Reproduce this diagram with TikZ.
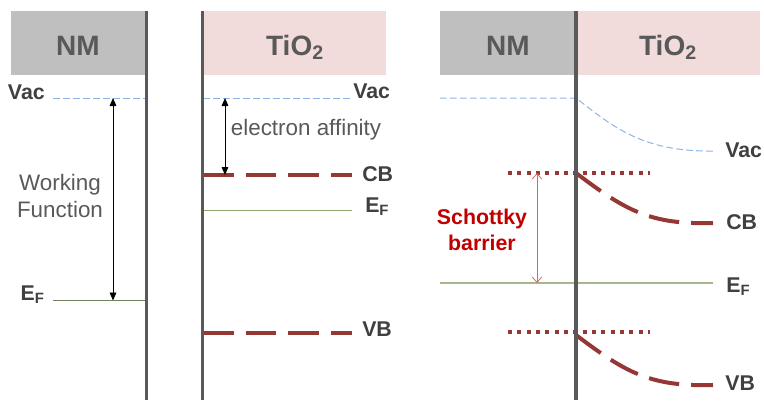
\documentclass[tikz,border=0pt]{standalone}
\usepackage{fontspec}
\setmainfont{Liberation Sans}
\usetikzlibrary{arrows.meta}
\definecolor{hdgray}{HTML}{BFBFBF}
\definecolor{hdpink}{HTML}{F2DCDB}
\definecolor{wallgray}{HTML}{595959}
\definecolor{bandred}{HTML}{953735}
\definecolor{vacblue}{HTML}{8EB4E3}
\definecolor{fermigreen}{HTML}{8FA570}
\definecolor{txtgray}{HTML}{404040}
\definecolor{sbred}{HTML}{C00000}
\definecolor{sbarrow}{HTML}{E06666}
\tikzset{
  hdr/.style={font=\fontsize{21}{24}\selectfont\bfseries, text=wallgray, anchor=base, inner sep=0},
  lbl/.style={font=\fontsize{16}{19}\selectfont\bfseries, text=txtgray, inner sep=0},
  note/.style={font=\fontsize{16.8}{20}\selectfont, text=wallgray, align=center, inner sep=0},
  vacline/.style={vacblue, line width=0.75pt, dash pattern=on 5pt off 2.5pt},
  fermiline/.style={fermigreen, line width=0.8pt},
  bandline/.style={bandred, line width=3pt, dash pattern=on 23pt off 9pt},
  bandref/.style={bandred, line width=3pt, dash pattern=on 3pt off 4pt},
  wall/.style={wallgray, line width=2.6pt},
  gap/.style={{Triangle[width=5pt,length=6pt]}-{Triangle[width=5pt,length=6pt]}, line width=0.6pt},
}
\begin{document}
\begin{tikzpicture}[x=0.75pt, y=-0.75pt]
  \useasboundingbox (0,0) rectangle (764,400);
  % headers
  \fill[hdgray] (11,11) rectangle (146,75);
  \fill[hdpink] (203,11) rectangle (386,75);
  \fill[hdgray] (440,11) rectangle (576,75);
  \fill[hdpink] (576,11) rectangle (760,75);
  \node[hdr] (nmA) at (78,55) {NM};
  \node[hdr] (tiB) at (295,55) {TiO\textsubscript{2}};
  \node[hdr] (nmC) at (508,55) {NM};
  \node[hdr] (tiC) at (668,55) {TiO\textsubscript{2}};

  % metal alone
  \draw[vacline] (53,98) -- (146,98);
  \draw[fermiline, fermigreen!80!black] (53,300.5) -- (146,300.5);
  \node[lbl, anchor=east] (vacA) at (45,92) {Vac};
  \node[lbl, anchor=base east] (efA) at (45,300) {E\textsubscript{F}};
  \coordinate (wfTop) at (113,98);
  \coordinate (wfBot) at (113,300.5);
  \draw[gap] (wfTop) -- (wfBot);
  \node[note] (wf) at (60,196) {Working\\Function};

  % oxide alone
  \draw[vacline] (203,98) -- (352,98);
  \draw[bandline] (203,175) -- (352,175);
  \draw[fermiline] (203,210.5) -- (352,210.5);
  \draw[bandline] (203,332.5) -- (352,332.5);
  \node[lbl, anchor=west] (vacB) at (353,91) {Vac};
  \node[lbl, anchor=west] (cbB) at (362,174.5) {CB};
  \node[lbl, anchor=base west] (efB) at (365,212) {E\textsubscript{F}};
  \node[lbl, anchor=west] (vbB) at (362,329.5) {VB};
  \coordinate (eaTop) at (225,98);
  \coordinate (eaBot) at (225,175);
  \draw[gap] (eaTop) -- (eaBot);
  \node[note] (ea) at (306,130) {electron affinity};

  % contact
  \draw[vacline] (440,98) -- (576,98) .. controls (612,126) and (642,152) .. (713,151);
  \draw[bandref] (508,173) -- (650,173);
  \draw[bandline] (576,173) .. controls (625,210) and (650,225) .. (713,223);
  \draw[fermiline, line width=1.2pt, fermigreen!80] (440,283) -- (713,283);
  \draw[bandref] (508,332) -- (650,332);
  \draw[bandline] (576,335) .. controls (625,372) and (650,387) .. (713,385);
  \node[lbl, anchor=west] (vacC) at (725,150) {Vac};
  \node[lbl, anchor=west] (cbC) at (726,222.5) {CB};
  \node[lbl, anchor=base west] (efC) at (726,292) {E\textsubscript{F}};
  \node[lbl, anchor=west] (vbC) at (725,383) {VB};
  \coordinate (sbTop) at (537,173);
  \coordinate (sbBot) at (537,283);
  \draw[sbarrow, line width=0.6pt, {Straight Barb[width=7pt,length=4pt]}-{Straight Barb[width=7pt,length=4pt]}] (sbTop) -- (sbBot);
  \node[lbl, text=sbred, align=center, font=\fontsize{16}{20}\selectfont\bfseries] (sb) at (482,230) {Schottky\\barrier};

  % interfaces
  \draw[wall] (146.5,11) -- (146.5,400);
  \draw[wall] (202.5,11) -- (202.5,400);
  \draw[wall] (576,11) -- (576,400);
\end{tikzpicture}
\end{document}
